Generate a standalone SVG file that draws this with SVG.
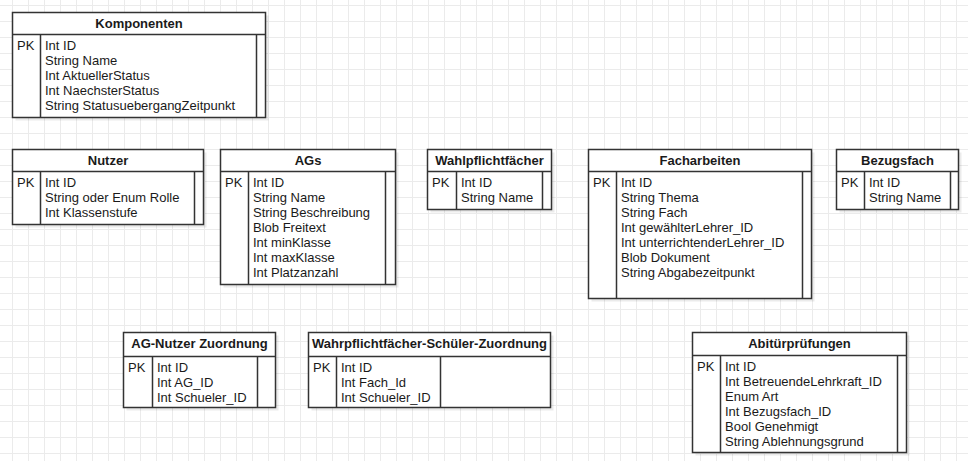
<svg xmlns="http://www.w3.org/2000/svg" width="968" height="461" viewBox="0 0 968 461">
<style>
.box{fill:#ffffff;stroke:#333333;stroke-width:1.5}
.sh{fill:#000000;opacity:0.08}
.ln{stroke:#333333;stroke-width:1.5;fill:none}
.t{font-family:"Liberation Sans",Arial,Helvetica,sans-serif;font-size:13px;fill:#1a1a1a}
.h{font-family:"Liberation Sans",Arial,Helvetica,sans-serif;font-size:13px;font-weight:bold;fill:#1a1a1a;text-anchor:middle}
</style>
<defs>
<pattern id="grid" x="12" y="5" width="16" height="16" patternUnits="userSpaceOnUse">
<path d="M0.5 0V16M0 0.5H16" stroke="#ebebeb" stroke-width="1" fill="none"/>
</pattern>
</defs>
<rect x="0" y="0" width="968" height="461" fill="#ffffff"/>
<rect x="0" y="0" width="968" height="461" fill="url(#grid)"/>
<g id="connectors"></g>

<g id="komponenten">
<rect class="sh" x="15.5" y="15.5" width="253" height="105"/>
<rect class="box" x="12.5" y="12.5" width="253" height="105"/>
<path class="ln" d="M12.5 34.5H265.5M40.5 34.5V117.5M256.5 34.5V117.5"/>
<text class="h" x="139" y="28">Komponenten</text>
<text class="t" x="17" y="50">PK</text>
<text class="t" x="45" y="50">Int ID</text>
<text class="t" x="45" y="65">String Name</text>
<text class="t" x="45" y="80">Int AktuellerStatus</text>
<text class="t" x="45" y="95">Int NaechsterStatus</text>
<text class="t" x="45" y="110">String StatusuebergangZeitpunkt</text>
</g>

<g id="nutzer">
<rect class="sh" x="15.5" y="152.5" width="191" height="75"/>
<rect class="box" x="12.5" y="149.5" width="191" height="75"/>
<path class="ln" d="M12.5 171.5H203.5M40.5 171.5V224.5M194.5 171.5V224.5"/>
<text class="h" x="108" y="165">Nutzer</text>
<text class="t" x="17" y="187">PK</text>
<text class="t" x="45" y="187">Int ID</text>
<text class="t" x="45" y="202">String oder Enum Rolle</text>
<text class="t" x="45" y="217">Int Klassenstufe</text>
</g>

<g id="ags">
<rect class="sh" x="223.5" y="152.5" width="175" height="135"/>
<rect class="box" x="220.5" y="149.5" width="175" height="135"/>
<path class="ln" d="M220.5 171.5H395.5M248.5 171.5V284.5M385.5 171.5V284.5"/>
<text class="h" x="308" y="165">AGs</text>
<text class="t" x="225" y="187">PK</text>
<text class="t" x="253" y="187">Int ID</text>
<text class="t" x="253" y="202">String Name</text>
<text class="t" x="253" y="217">String Beschreibung</text>
<text class="t" x="253" y="232">Blob Freitext</text>
<text class="t" x="253" y="247">Int minKlasse</text>
<text class="t" x="253" y="262">Int maxKlasse</text>
<text class="t" x="253" y="277">Int Platzanzahl</text>
</g>

<g id="wahlpflichtfaecher">
<rect class="sh" x="430.5" y="152.5" width="124" height="60"/>
<rect class="box" x="427.5" y="149.5" width="124" height="60"/>
<path class="ln" d="M427.5 171.5H551.5M456.5 171.5V209.5M542.5 171.5V209.5"/>
<text class="h" x="489.5" y="165">Wahlpflichtfächer</text>
<text class="t" x="432" y="187">PK</text>
<text class="t" x="461" y="187">Int ID</text>
<text class="t" x="461" y="202">String Name</text>
</g>

<g id="facharbeiten">
<rect class="sh" x="591.5" y="152.5" width="223" height="149"/>
<rect class="box" x="588.5" y="149.5" width="223" height="149"/>
<path class="ln" d="M588.5 171.5H811.5M616.5 171.5V298.5M802.5 171.5V298.5"/>
<text class="h" x="700" y="165">Facharbeiten</text>
<text class="t" x="593" y="187">PK</text>
<text class="t" x="621" y="187">Int ID</text>
<text class="t" x="621" y="202">String Thema</text>
<text class="t" x="621" y="217">String Fach</text>
<text class="t" x="621" y="232">Int gewählterLehrer_ID</text>
<text class="t" x="621" y="247">Int unterrichtenderLehrer_ID</text>
<text class="t" x="621" y="262">Blob Dokument</text>
<text class="t" x="621" y="277">String Abgabezeitpunkt</text>
</g>

<g id="bezugsfach">
<rect class="sh" x="839.5" y="152.5" width="122" height="60"/>
<rect class="box" x="836.5" y="149.5" width="122" height="60"/>
<path class="ln" d="M836.5 171.5H958.5M864.5 171.5V209.5M950.5 171.5V209.5"/>
<text class="h" x="897.5" y="165">Bezugsfach</text>
<text class="t" x="841" y="187">PK</text>
<text class="t" x="869" y="187">Int ID</text>
<text class="t" x="869" y="202">String Name</text>
</g>

<g id="ag-nutzer-zuordnung">
<rect class="sh" x="126.5" y="335.5" width="152" height="75"/>
<rect class="box" x="123.5" y="332.5" width="152" height="75"/>
<path class="ln" d="M123.5 356.5H275.5M152.5 356.5V407.5M257.5 356.5V407.5"/>
<text class="h" x="199.5" y="348">AG-Nutzer Zuordnung</text>
<text class="t" x="128" y="372">PK</text>
<text class="t" x="157" y="372">Int ID</text>
<text class="t" x="157" y="387">Int AG_ID</text>
<text class="t" x="157" y="402">Int Schueler_ID</text>
</g>

<g id="wahrpflichtfaecher-schueler-zuordnung">
<rect class="sh" x="311.5" y="335.5" width="242" height="75"/>
<rect class="box" x="308.5" y="332.5" width="242" height="75"/>
<path class="ln" d="M308.5 356.5H550.5M336.5 356.5V407.5M440.5 356.5V407.5"/>
<text class="h" x="429.5" y="348">Wahrpflichtfächer-Schüler-Zuordnung</text>
<text class="t" x="313" y="372">PK</text>
<text class="t" x="341" y="372">Int ID</text>
<text class="t" x="341" y="387">Int Fach_Id</text>
<text class="t" x="341" y="402">Int Schueler_ID</text>
</g>

<g id="abiturpruefungen">
<rect class="sh" x="695.5" y="335.5" width="214" height="120"/>
<rect class="box" x="692.5" y="332.5" width="214" height="120"/>
<path class="ln" d="M692.5 355.5H906.5M720.5 355.5V452.5M897.5 355.5V452.5"/>
<text class="h" x="799.5" y="348">Abitürprüfungen</text>
<text class="t" x="697" y="371">PK</text>
<text class="t" x="725" y="371">Int ID</text>
<text class="t" x="725" y="386">Int BetreuendeLehrkraft_ID</text>
<text class="t" x="725" y="401">Enum Art</text>
<text class="t" x="725" y="416">Int Bezugsfach_ID</text>
<text class="t" x="725" y="431">Bool Genehmigt</text>
<text class="t" x="725" y="446">String Ablehnungsgrund</text>
</g>
</svg>
